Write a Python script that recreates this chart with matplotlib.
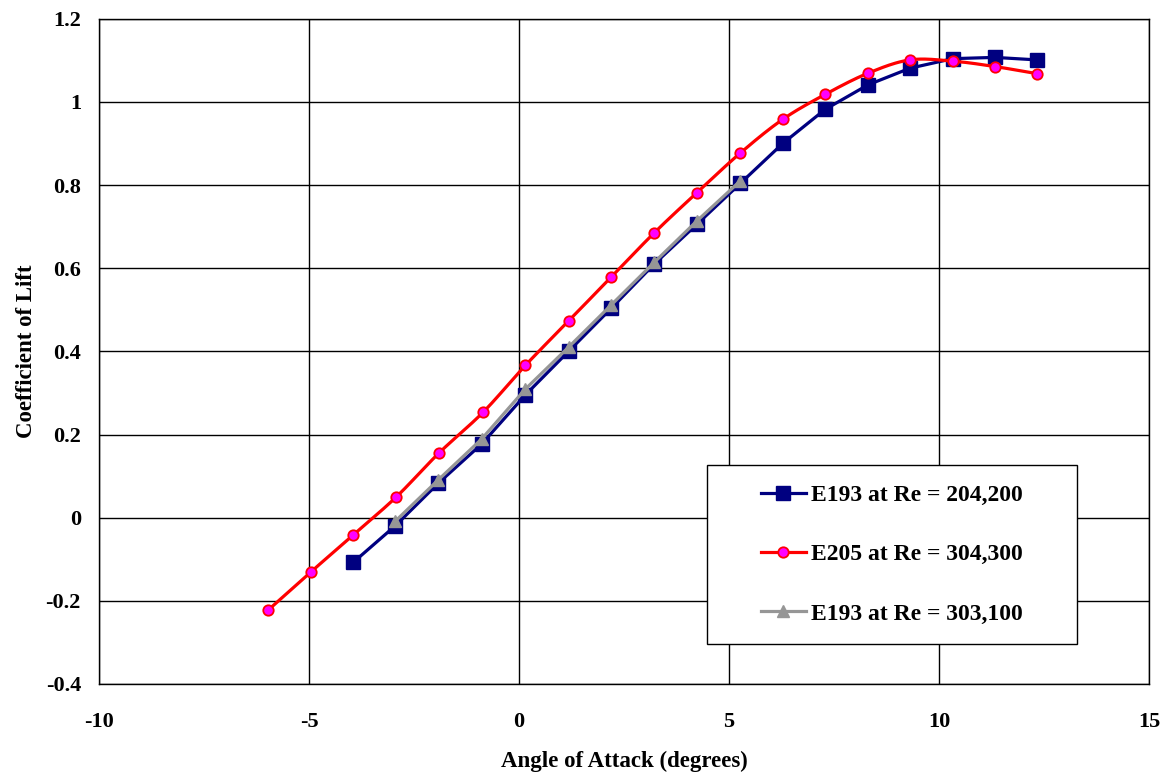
import numpy as np
import matplotlib
matplotlib.use("Agg")
import matplotlib.pyplot as plt
from matplotlib.lines import Line2D
from matplotlib.patches import Rectangle

# ---- data ----
e193_204_x = [-3.94, -2.94, -1.92, -0.89, 0.15, 1.18, 2.20, 3.22, 4.24, 5.27, 6.28, 7.29, 8.31, 9.31, 10.33, 11.33, 12.33]
e193_204_y = [-0.107, -0.019, 0.083, 0.177, 0.295, 0.400, 0.504, 0.610, 0.706, 0.804, 0.900, 0.982, 1.041, 1.081, 1.104, 1.107, 1.101]

e205_304_x = [-5.98, -4.96, -3.94, -2.92, -1.91, -0.85, 0.15, 1.18, 2.20, 3.22, 4.24, 5.27, 6.28, 7.29, 8.31, 9.31, 10.33, 11.33, 12.33]
e205_304_y = [-0.223, -0.131, -0.041, 0.050, 0.155, 0.254, 0.366, 0.473, 0.579, 0.685, 0.782, 0.877, 0.958, 1.018, 1.069, 1.101, 1.098, 1.085, 1.068]

e193_303_x = [-2.94, -1.92, -0.89, 0.15, 1.18, 2.20, 3.22, 4.24, 5.27]
e193_303_y = [-0.008, 0.091, 0.189, 0.309, 0.410, 0.512, 0.614, 0.714, 0.810]

labels = ["E193 at Re = 204,200", "E205 at Re = 304,300", "E193 at Re = 303,100"]
x_ticks = [-10, -5, 0, 5, 10, 15]
y_ticks = [-0.4, -0.2, 0, 0.2, 0.4, 0.6, 0.8, 1, 1.2]
y_tick_labels = ["-0.4", "-0.2", "0", "0.2", "0.4", "0.6", "0.8", "1", "1.2"]
x_tick_labels = ["-10", "-5", "0", "5", "10", "15"]


def smooth(xs, ys, n=20):
    """Catmull-Rom style smoothing used only to draw the line through the points."""
    xs = np.asarray(xs, float); ys = np.asarray(ys, float)
    px = np.concatenate([[2 * xs[0] - xs[1]], xs, [2 * xs[-1] - xs[-2]]])
    py = np.concatenate([[2 * ys[0] - ys[1]], ys, [2 * ys[-1] - ys[-2]]])
    outx, outy = [], []
    t = np.linspace(0, 1, n, endpoint=False)
    for i in range(1, len(px) - 2):
        p0, p1, p2, p3 = [np.array([px[j], py[j]]) for j in (i - 1, i, i + 1, i + 2)]
        tt = t[:, None]
        pts = 0.5 * ((2 * p1) + (-p0 + p2) * tt + (2 * p0 - 5 * p1 + 4 * p2 - p3) * tt ** 2
                     + (-p0 + 3 * p1 - 3 * p2 + p3) * tt ** 3)
        outx.extend(pts[:, 0]); outy.extend(pts[:, 1])
    outx.append(xs[-1]); outy.append(ys[-1])
    return np.array(outx), np.array(outy)


plt.rcParams['font.family'] = ['Liberation Serif', 'DejaVu Serif']
plt.rcParams['font.weight'] = 'bold'
plt.rcParams['axes.unicode_minus'] = False

fig = plt.figure(figsize=(11.74, 7.74), dpi=100)
ax = fig.add_axes([0.0843, 0.1163, 0.8944, 0.8595])

navy = "#000080"
red = "#FF0000"
gray = "#969696"

ax.plot(e193_204_x, e193_204_y, color=navy, lw=2.3, marker='s', ms=10,
        mfc=navy, mec=navy, zorder=3)
sx, sy = smooth(e205_304_x, e205_304_y)
ax.plot(sx, sy, color=red, lw=2.3, zorder=4)
ax.plot(e205_304_x, e205_304_y, ls='none', marker='o', ms=7.5, mfc='#FF00FF', mec=red,
        mew=1.3, zorder=5)
ax.plot(e193_303_x, e193_303_y, color=gray, lw=2.3, marker='^', ms=9,
        mfc=gray, mec=gray, zorder=4)

ax.set_xlim(-10, 15)
ax.set_ylim(-0.4, 1.2)
ax.set_xticks(x_ticks)
ax.set_xticklabels(x_tick_labels)
ax.set_yticks(y_ticks)
ax.set_yticklabels(y_tick_labels)
ax.grid(True, color='black', lw=1.0)
ax.set_axisbelow(True)
for s in ax.spines.values():
    s.set_color('black'); s.set_linewidth(1.0)
ax.tick_params(length=0, labelsize=16)
ax.tick_params(axis='y', pad=13)
ax.tick_params(axis='x', pad=20)
for lab in ax.get_xticklabels() + ax.get_yticklabels():
    lab.set_fontweight('bold')

ax.set_xlabel("Angle of Attack (degrees)", fontsize=16.5, fontweight='bold', labelpad=14)
ax.set_ylabel("Coefficient of Lift", fontsize=16.5, fontweight='bold', labelpad=6)

# legend box
bx0, by0, bx1, by1 = 0.579, 0.0601, 0.9314, 0.3292
ax.add_patch(Rectangle((bx0, by0), bx1 - bx0, by1 - by0, transform=ax.transAxes,
                       facecolor='white', edgecolor='black', lw=1.0, zorder=6))

handles = [
    Line2D([], [], color=navy, lw=2.3, marker='s', ms=10, mfc=navy, mec=navy),
    Line2D([], [], color=red, lw=2.3, marker='o', ms=7.5, mfc='#FF00FF', mec=red, mew=1.3),
    Line2D([], [], color=gray, lw=2.3, marker='^', ms=9, mfc=gray, mec=gray),
]
leg = ax.legend(handles, labels, loc='center', bbox_to_anchor=((bx0 + bx1) / 2, (by0 + by1) / 2),
                fontsize=17, frameon=False, handlelength=1.9,
                handletextpad=0.22, labelspacing=1.6, borderpad=0, borderaxespad=0)
leg.set_zorder(7)
for t in leg.get_texts():
    t.set_fontweight('bold')

fig.savefig("out.png", dpi=100)
